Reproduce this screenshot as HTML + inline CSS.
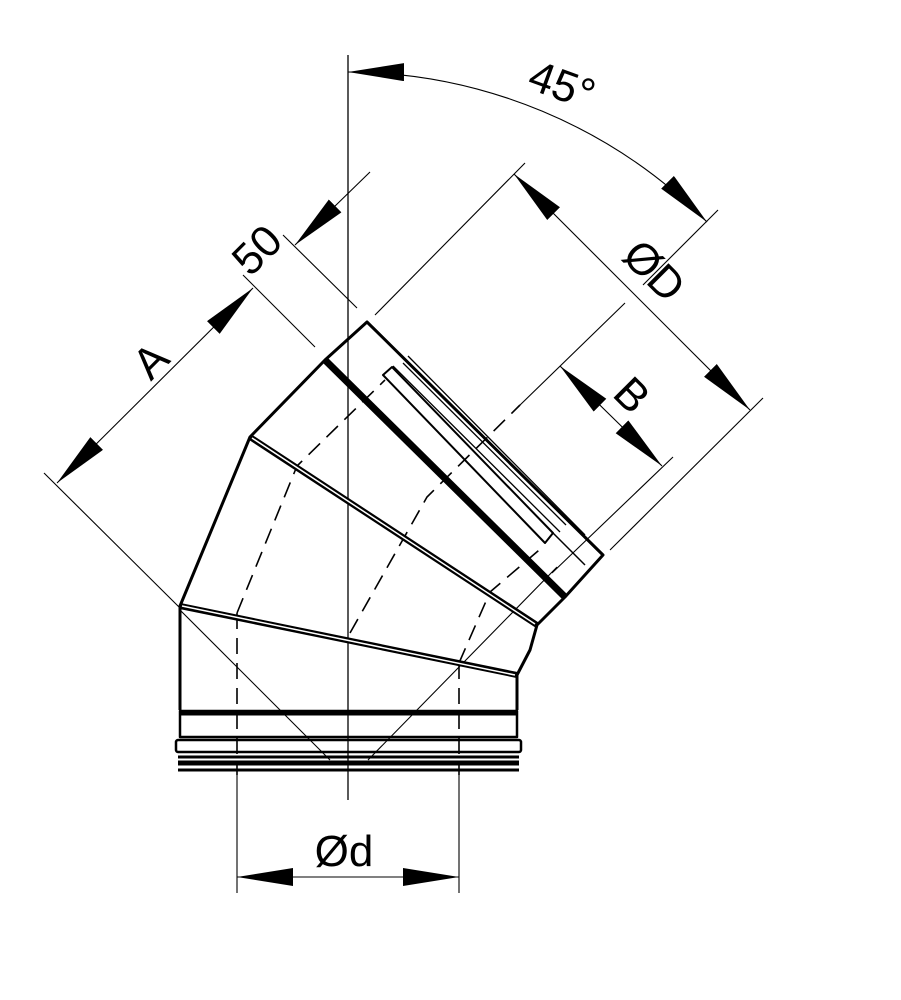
<!DOCTYPE html>
<html><head><meta charset="utf-8"><style>html,body{margin:0;padding:0;background:#fff}svg{display:block}</style></head>
<body>
<svg width="901" height="1000" viewBox="0 0 901 1000" xmlns="http://www.w3.org/2000/svg">
<defs>
<marker id="ar" markerUnits="userSpaceOnUse" markerWidth="60" markerHeight="20" refX="56" refY="9" orient="auto-start-reverse" viewBox="0 0 60 20">
<path d="M0,0 L56,9 L0,18 Z" fill="#000"/>
</marker>
</defs>
<g fill="none" stroke="#000">
<line x1="348" y1="55" x2="348" y2="800" stroke-width="1.3"/>
<g stroke-width="1.1">
<line x1="44" y1="473" x2="180" y2="608"/>
<line x1="243" y1="275" x2="315" y2="347"/>
<line x1="283" y1="235" x2="357" y2="308"/>
<line x1="375" y1="315" x2="525" y2="163"/>
<line x1="610" y1="550" x2="763" y2="398"/>
<line x1="643" y1="285" x2="718" y2="210"/>
<line x1="518" y1="407" x2="625" y2="303"/>
<line x1="552" y1="573" x2="673" y2="457"/>
<line x1="180" y1="610" x2="330" y2="760"/>
<line x1="368" y1="760" x2="557" y2="567"/>
<line x1="237" y1="775" x2="237" y2="893"/>
<line x1="459" y1="775" x2="459" y2="893"/>
</g>
<g stroke-width="1.1">
<path d="M348,72 A508,508 0 0 1 707,222" marker-start="url(#ar)" marker-end="url(#ar)"/>
<line x1="514" y1="174" x2="750" y2="410" marker-start="url(#ar)" marker-end="url(#ar)"/>
<line x1="560" y1="366" x2="662" y2="466" marker-start="url(#ar)" marker-end="url(#ar)"/>
<line x1="253" y1="288" x2="57" y2="483" marker-start="url(#ar)" marker-end="url(#ar)"/>
<line x1="370" y1="172" x2="295" y2="245" marker-end="url(#ar)"/>
<line x1="237" y1="877" x2="459" y2="877" marker-start="url(#ar)" marker-end="url(#ar)"/>
</g>
<g stroke-width="1.6" stroke-dasharray="16,9">
<polyline points="237,613 237,775"/>
<polyline points="459,663 459,775"/>
<polyline points="237,613 297,466 385,380"/>
<polyline points="459,663 490,592 545,545"/>
<polyline points="350,633 427,497 520,405"/>
</g>
<g stroke-width="3" stroke-linejoin="round">
<polyline points="180,710 180,606 250,437 325,360 367,322 603,555 565,597 537,625 530,650 517,675 517,710"/>
<line x1="180" y1="606" x2="517" y2="675" stroke-width="6"/>
<line x1="182" y1="606" x2="515" y2="675" stroke="#fff" stroke-width="1.5"/>
<line x1="250" y1="437" x2="537" y2="625" stroke-width="6"/>
<line x1="252" y1="438" x2="535" y2="624" stroke="#fff" stroke-width="1.5"/>
<line x1="373" y1="327" x2="598" y2="551" stroke-width="1.5"/>
<line x1="325" y1="360" x2="565" y2="597" stroke-width="7"/>
<polygon points="383,375 392,367 553,533 545,543" stroke-width="2"/>
<line x1="393" y1="366" x2="560" y2="532" stroke-width="1.3"/>
<line x1="403" y1="363" x2="566" y2="525" stroke-width="1.3"/>
<line x1="408" y1="356" x2="585" y2="535" stroke-width="1.3"/>
<line x1="553" y1="533" x2="585" y2="565" stroke-width="1.5"/>
<rect x="180" y="711" width="337" height="26" stroke-width="2.5"/>
<line x1="180" y1="713" x2="517" y2="713" stroke-width="5"/>
<rect x="176" y="740" width="345" height="12" rx="2" stroke-width="2.5"/>
<line x1="178" y1="757" x2="519" y2="757" stroke-width="3"/>
<line x1="178" y1="763" x2="519" y2="763" stroke-width="5"/>
<line x1="178" y1="770" x2="519" y2="770" stroke-width="3"/>
</g>
</g>
<g font-family="'Liberation Sans', 'DejaVu Sans', sans-serif" font-size="44" fill="#000">
<text x="562" y="100" text-anchor="middle" transform="rotate(20 562 85)">45°</text>
<text x="150" y="376" text-anchor="middle" transform="rotate(-45 150 360)">A</text>
<text x="257" y="265" text-anchor="middle" transform="rotate(-45 257 250)">50</text>
<text x="655" y="286" text-anchor="middle" transform="rotate(45 655 270)">ØD</text>
<text x="632" y="410" text-anchor="middle" transform="rotate(45 632 395)">B</text>
<text x="344" y="866" text-anchor="middle">Ød</text>
</g>
</svg>
</body></html>
